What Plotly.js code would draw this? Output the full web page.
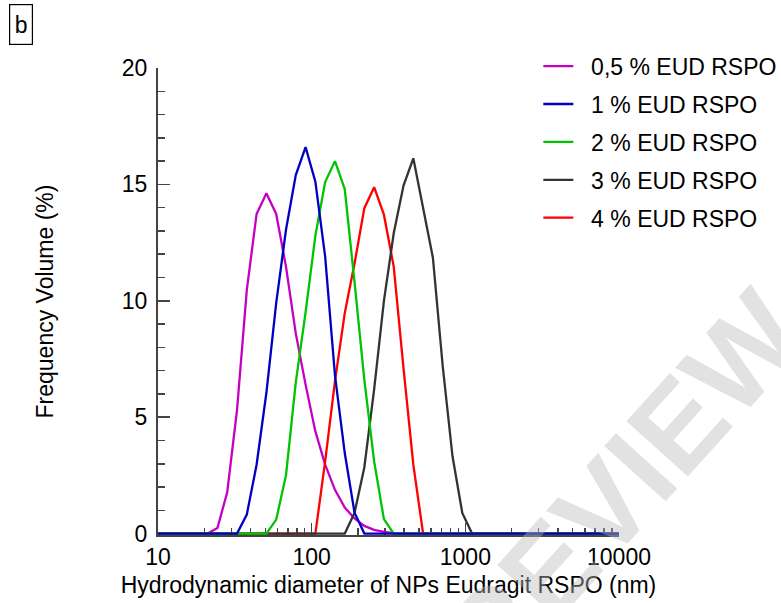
<!DOCTYPE html>
<html>
<head>
<meta charset="utf-8">
<script src="https://cdn.plot.ly/plotly-3.0.1.min.js"></script>
<style>html,body{margin:0;padding:0;background:#fff;}#chart{width:781px;height:603px;}</style>
</head>
<body>
<div id="chart"></div>
<script>
// Size bins (nm)
const sizes = [8.721, 10.1, 11.7, 13.54, 15.69, 18.17, 21.04, 24.36, 28.21, 32.67, 37.84, 43.82, 50.75, 58.77, 68.06, 78.82, 91.28, 105.7, 122.4, 141.8, 164.2, 190.1, 220.2, 255, 295.3, 342, 396.1, 458.7, 531.2, 615.1, 712.4, 825, 955.4, 1106, 1281, 1484, 1718, 1990, 2305, 2669, 3091, 3580, 4145, 4801, 5560, 6439, 7456, 8635, 10000];

// Frequency volume (%) per series
const eud05 = [0,0,0,0,0,0,0,0.24,1.77,5.3,10.47,13.73,14.62,13.73,11.47,8.6,6.4,4.39,2.96,1.88,1.12,0.65,0.33,0.16,0.07,0.02,0,0,0,0,0,0,0,0,0,0,0,0,0,0,0,0,0,0,0,0,0,0,0];
const eud1  = [0,0,0,0,0,0,0,0,0,0,0.82,2.96,6.05,9.9,13.05,15.4,16.6,15.12,11.9,6.8,3.46,0.9,0,0,0,0,0,0,0,0,0,0,0,0,0,0,0,0,0,0,0,0,0,0,0,0,0,0,0];
const eud2  = [0,0,0,0,0,0,0,0,0,0,0,0,0,0.6,2.5,6.5,9.5,12.8,15.1,16.0,14.8,10.8,6.6,3.1,0.62,0,0,0,0,0,0,0,0,0,0,0,0,0,0,0,0,0,0,0,0,0,0,0,0];
const eud3  = [0,0,0,0,0,0,0,0,0,0,0,0,0,0,0,0,0,0,0,0,0,0.89,2.85,6.2,10.0,12.9,14.95,16.12,14.0,11.85,7.2,3.32,0.89,0,0,0,0,0,0,0,0,0,0,0,0,0,0,0,0];
const eud4  = [0,0,0,0,0,0,0,0,0,0,0,0,0,0,0,0,0,0,3.1,6.55,9.47,11.6,13.98,14.88,13.7,11.47,7.1,2.96,0,0,0,0,0,0,0,0,0,0,0,0,0,0,0,0,0,0,0,0,0];

const seriesNames = ["0,5 % EUD RSPO", "1 % EUD RSPO", "2 % EUD RSPO", "3 % EUD RSPO", "4 % EUD RSPO"];
const xTickVals = [10, 100, 1000, 10000];
const xTickText = ["10", "100", "1000", "10000"];

const FONT = "Liberation Sans, Arial, sans-serif";
const FS = 23;

function tr(y, name, color, rank) {
  return {
    x: sizes, y: y, name: "\u00a0\u00a0" + name, type: "scatter", mode: "lines",
    line: {color: color, width: 2.3},
    legendgroup: name, legendrank: rank
  };
}
// draw order: magenta, red, black, green, blue (blue on top)
const data = [
  tr(eud05, seriesNames[0], "#C400C4", 1),
  tr(eud4,  seriesNames[4], "#FF0000", 5),
  tr(eud3,  seriesNames[3], "#333333", 4),
  tr(eud2,  seriesNames[2], "#00C400", 3),
  tr(eud1,  seriesNames[1], "#0000C4", 2)
];

const minorX = [];
for (let d = 10; d < 10000; d *= 10) for (let k = 2; k <= 9; k++) minorX.push(d * k);

const layout = {
  width: 781, height: 603,
  margin: {l: 158, r: 162, t: 68, b: 68, autoexpand: false},
  paper_bgcolor: "#fff", plot_bgcolor: "#fff",
  font: {family: FONT, size: FS, color: "#000"},
  showlegend: true,
  legend: {
    x: 0.825, y: 1.05, xanchor: "left", yanchor: "top",
    traceorder: "grouped", tracegroupgap: 5,
    itemwidth: 30, font: {family: FONT, size: FS, color: "#000"},
    bgcolor: "rgba(0,0,0,0)"
  },
  xaxis: {
    type: "log", range: [1, 4], layer: "below traces",
    tickvals: xTickVals, ticktext: xTickText,
    ticks: "inside", ticklen: 12, tickwidth: 1.5, tickcolor: "#444",
    minor: {tickvals: minorX, ticks: "inside", ticklen: 7, tickwidth: 1.5, tickcolor: "#444"},
    showline: true, linecolor: "#444", linewidth: 2,
    showgrid: false, zeroline: false,
    tickfont: {family: FONT, size: FS},
    title: {text: "Hydrodynamic diameter of NPs Eudragit RSPO (nm)", font: {family: FONT, size: FS}, standoff: 8},
    automargin: false
  },
  yaxis: {
    range: [-0.06, 20], tickvals: [0, 5, 10, 15, 20], layer: "below traces",
    ticks: "inside", ticklen: 12, tickwidth: 1.5, tickcolor: "#444",
    minor: {tickvals: [1,2,3,4,6,7,8,9,11,12,13,14,16,17,18,19], ticks: "inside", ticklen: 7, tickwidth: 1.5, tickcolor: "#444"},
    showline: true, linecolor: "#444", linewidth: 2,
    showgrid: false, zeroline: false,
    tickfont: {family: FONT, size: FS},
    ticklabelstandoff: 4,
    title: {text: "Frequency Volume (%)", font: {family: FONT, size: FS}, standoff: 62},
    automargin: false
  },
  annotations: [
    {text: "b", xref: "paper", yref: "paper", x: -0.297, y: 1.094, xanchor: "center", yanchor: "middle",
     showarrow: false, font: {family: FONT, size: FS, color: "#000"}, width: 16, height: 33,
     bordercolor: "#000", borderwidth: 1.2, borderpad: 3, bgcolor: "#fff"},
    {text: "<b>PREVIEW</b>", xref: "paper", yref: "paper", x: 0.95, y: 0.04, xanchor: "center", yanchor: "middle",
     showarrow: false, textangle: -48, font: {family: FONT, size: 120, color: "rgba(185,185,185,0.42)"}}
  ]
};

Plotly.newPlot("chart", data, layout, {displayModeBar: false, staticPlot: true});
</script>
</body>
</html>
